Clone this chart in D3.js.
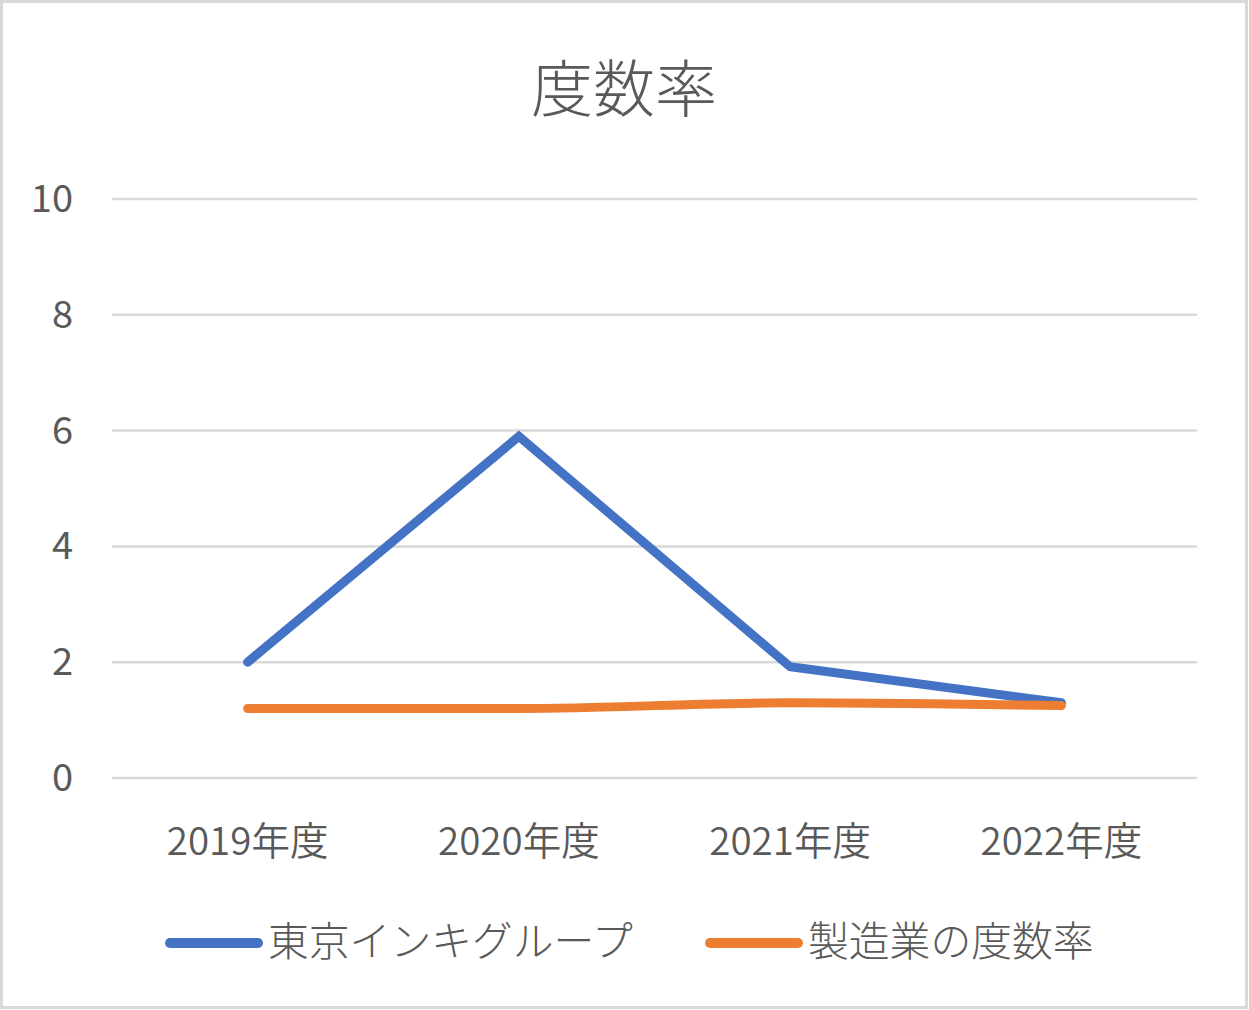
<!DOCTYPE html>
<html><head><meta charset="utf-8">
<script src="https://cdn.jsdelivr.net/npm/d3@7/dist/d3.min.js"></script>
<style>html,body{margin:0;padding:0;background:#fff;}svg{display:block;}</style>
</head><body>
<script>
const title = "度数率";
const categories = ["2019年度", "2020年度", "2021年度", "2022年度"];
const seriesNames = ["東京インキグループ", "製造業の度数率"];
const groupValues = [2.0, 5.9, 1.92, 1.3];
const industryValues = [1.2, 1.2, 1.3, 1.25];
const yTicks = [0, 2, 4, 6, 8, 10];
const colors = ["#4472c4", "#ed7d31"];

const W = 1249, H = 1010;
const font = "'Noto Sans CJK JP', 'Noto Sans', sans-serif";
const textColor = "#595959";

const svg = d3.select("body").append("svg").attr("width", W).attr("height", H);
svg.append("rect").attr("x", 1.5).attr("y", 1.5).attr("width", W - 4).attr("height", H - 4)
  .attr("fill", "#fff").attr("stroke", "#d9d9d9").attr("stroke-width", 3);

const x = d3.scaleBand().domain(categories).range([112, 1197]);
const y = d3.scaleLinear().domain([0, 10]).range([778, 199]);

svg.append("text").attr("x", 624).attr("y", 112).attr("text-anchor", "middle")
  .attr("font-family", font).attr("font-weight", 300).attr("font-size", 62)
  .attr("fill", textColor).text(title);

// gridlines
svg.append("g").selectAll("line").data(yTicks).join("line")
  .attr("x1", 112).attr("x2", 1197)
  .attr("y1", d => y(d)).attr("y2", d => y(d))
  .attr("stroke", "#d9d9d9").attr("stroke-width", 2.5);

// y labels
svg.append("g").selectAll("text").data(yTicks).join("text")
  .attr("x", 73).attr("y", d => y(d) + 13).attr("text-anchor", "end")
  .attr("font-family", font).attr("font-size", 38).attr("fill", textColor)
  .text(d => d);

// x labels
svg.append("g").selectAll("text").data(categories).join("text")
  .attr("x", d => x(d) + x.bandwidth() / 2).attr("y", 855).attr("text-anchor", "middle")
  .attr("font-family", font).attr("font-weight", 350).attr("font-size", 38.5).attr("fill", textColor)
  .text(d => d);

const cx = (d, i) => x(categories[i]) + x.bandwidth() / 2;

const lineStraight = d3.line().x(cx).y(d => y(d));
const lineSmooth = d3.line().x(cx).y(d => y(d)).curve(d3.curveMonotoneX);

svg.append("path").datum(groupValues).attr("d", lineStraight)
  .attr("fill", "none").attr("stroke", colors[0]).attr("stroke-width", 9)
  .attr("stroke-linecap", "round").attr("stroke-linejoin", "miter");
svg.append("path").datum(industryValues).attr("d", lineSmooth)
  .attr("fill", "none").attr("stroke", colors[1]).attr("stroke-width", 9)
  .attr("stroke-linecap", "round").attr("stroke-linejoin", "round");

// legend
const legendItems = [
  {name: seriesNames[0], color: colors[0], x1: 170, x2: 258, tx: 268},
  {name: seriesNames[1], color: colors[1], x1: 710, x2: 798, tx: 808}
];
const lg = svg.append("g");
legendItems.forEach(it => {
  lg.append("line").attr("x1", it.x1).attr("x2", it.x2).attr("y1", 943).attr("y2", 943)
    .attr("stroke", it.color).attr("stroke-width", 10).attr("stroke-linecap", "round");
  lg.append("text").attr("x", it.tx).attr("y", 956)
    .attr("font-family", font).attr("font-weight", 300).attr("font-size", 40.8)
    .attr("fill", textColor).text(it.name);
});
</script>
</body></html>
